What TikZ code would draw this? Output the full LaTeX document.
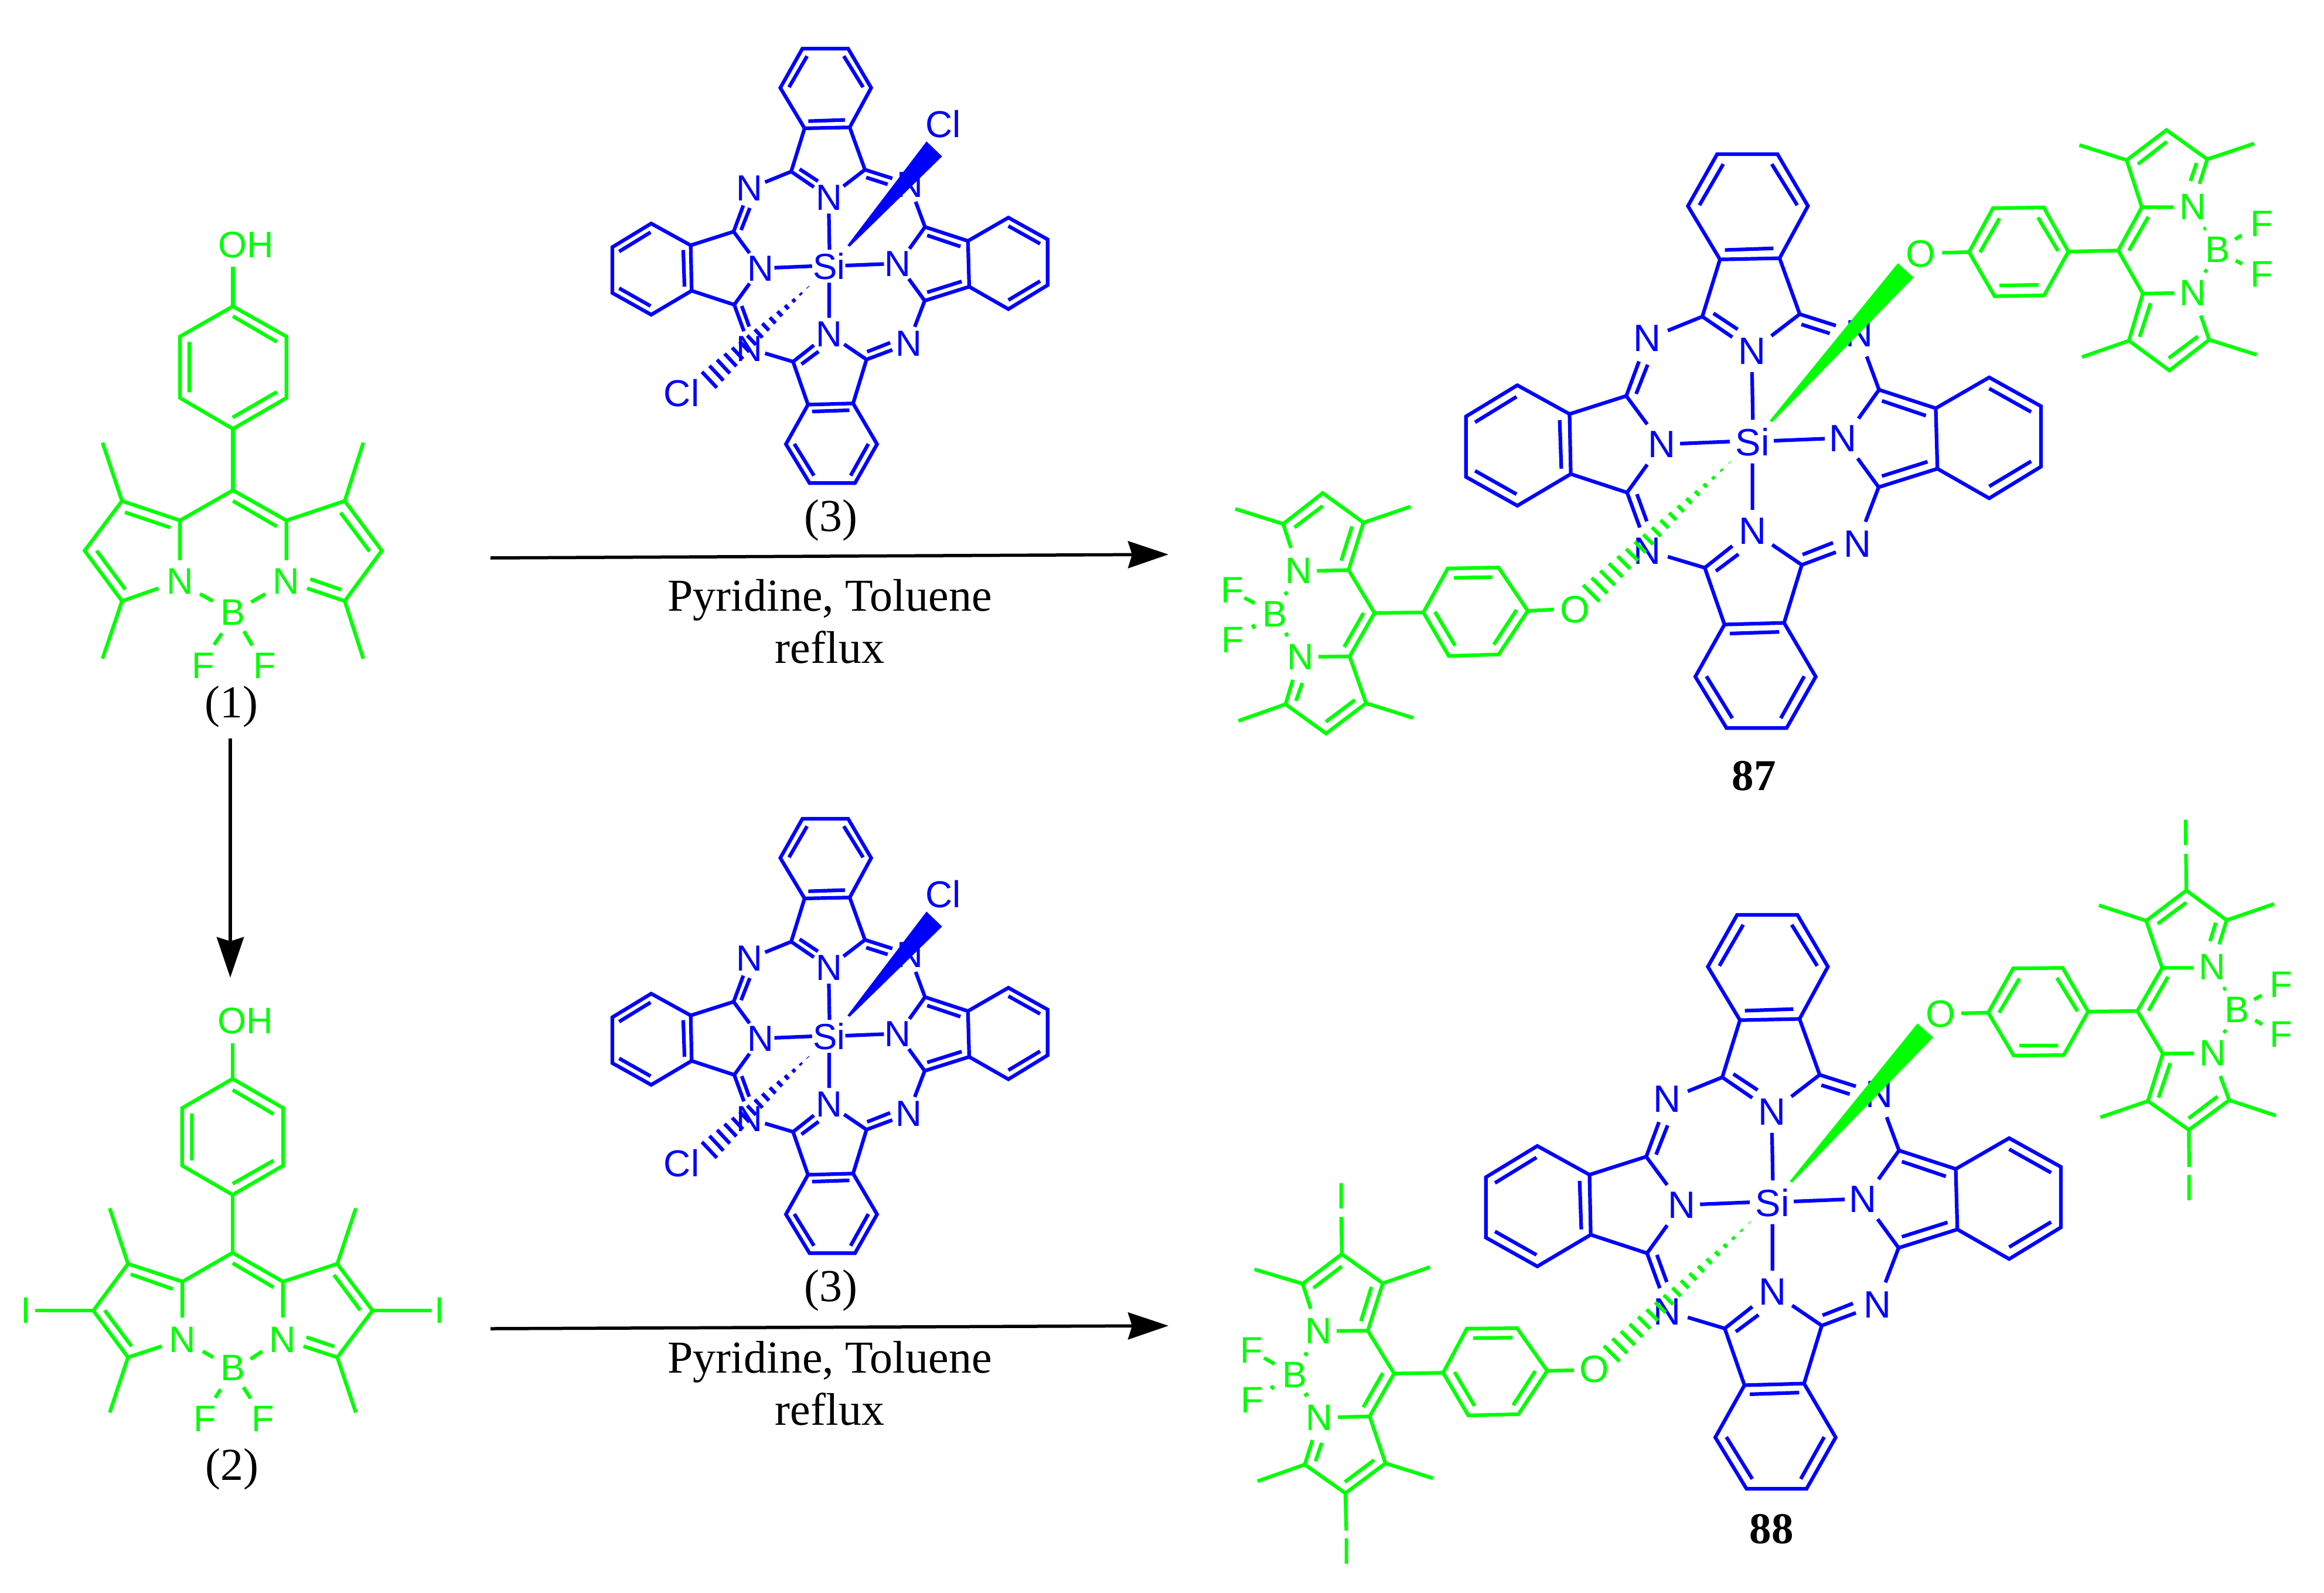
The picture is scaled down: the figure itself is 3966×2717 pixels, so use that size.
\documentclass[tikz,border=0pt]{standalone}
\usepackage{fontspec}
\setmainfont{Liberation Serif}
\newfontfamily\atomf{Liberation Sans}
\usetikzlibrary{calc,arrows.meta}
\definecolor{dgreen}{RGB}{0,255,0}
\definecolor{dblue}{RGB}{0,0,255}
\def\atsz{6.3}
\tikzset{
  frag/.style n args={4}{shift={(#1,#2)},x=#3pt,y=-#4pt},
  bond/.style={line width=0.62pt},
  atom/.style={inner sep=0pt,font=\atomf\fontsize{\atsz}{\atsz}\selectfont},
  lab/.style={inner sep=0pt,anchor=base,text=black,font=\fontsize{7.8}{9}\selectfont},
  rxn/.style={black,line width=0.55pt,-{Stealth[length=6.9pt,width=4.6pt,inset=0.7pt]}},
}
% hashed bond: tip, wide end a, wide end b, number of strokes
\newcommand\hashb[4]{%
  \coordinate (ht) at (#1);\coordinate (ha) at (#2);\coordinate (hb) at (#3);
  \foreach \i in {1,...,#4}{%
    \pgfmathsetmacro\tt{0.03+0.97*(\i-1)/(#4-1)}%
    \draw[bond] ($(ht)!\tt!(ha)$) -- ($(ht)!\tt!(hb)$);
  }%
}
% phthalocyanine skeleton, blue
\newcommand\pccore{%
  \draw[bond] (756,90)--(903,90)--(977,216)--(908,343)--(763,346)--(685,216)--cycle;
  \draw[bond] (771,114)--(713,214) (889,114)--(951,214) (775,323)--(893,319);
  \draw[bond] (636,519)--(720,485)--(793,535) (720,485)--(763,346) (908,343)--(957,479)--(888,532) (957,479)--(1045,507);
  \draw[bond] (747,477)--(806,516) (961,504)--(1030,526);
  \draw[bond] (841,620)--(843,736) (666,794)--(787,789) (894,787)--(1018,782) (842,842)--(842,955);
  % left
  \draw[bond] (586,747)--(535,678)--(397,722)--(400,868)--(537,913)--(586,845);
  \draw[bond] (566,594)--(535,678) (537,913)--(568,998);
  \draw[bond] (559,673)--(587,602) (561,917)--(585,983);
  \draw[bond] (397,722)--(270,652)--(145,728)--(145,875)--(270,945)--(400,868);
  \draw[bond] (373,737)--(377,855) (268,680)--(167,742) (167,860)--(268,917);
  % right
  \draw[bond] (1120,582)--(1150,663)--(1100,733) (1150,663)--(1288,708)--(1292,855)--(1149,900)--(1098,830) (1149,900)--(1117,984);
  \draw[bond] (1288,708)--(1418,633)--(1544,703)--(1544,850)--(1418,927)--(1292,855);
  \draw[bond] (1157,690)--(1264,726) (1157,873)--(1268,838) (1418,660)--(1520,717) (1418,898)--(1520,837);
  % bottom
  \draw[bond] (793,1043)--(726,1096)--(636,1069) (726,1096)--(774,1234)--(919,1230)--(962,1089)--(890,1040) (962,1089)--(1045,1058);
  \draw[bond] (808,1063)--(753,1104) (964,1064)--(1038,1035) (787,1256)--(907,1252);
  \draw[bond] (774,1234)--(703,1361)--(779,1486)--(925,1486)--(996,1361)--(919,1230);
  \draw[bond] (730,1360)--(793,1462) (968,1360)--(911,1462);
  % atoms
  \node[atom] (ntl) at (586,538) {N};
  \node[atom] (ntc) at (841,569) {N};
  \node[atom] (ntr) at (1102,527) {N};
  \node[atom] (nl) at (622,796) {N};
  \node[atom] (nr) at (1062,782) {N};
  \node[atom] (si) at (842,790) {Si};
  \node[atom] (nbc) at (842,1007) {N};
  \node[atom] (nbl) at (586,1055) {N};
  \node[atom] (nbr) at (1097,1038) {N};
}
% chlorosilicon phthalocyanine (3), frame of the upper copy
\newcommand\compthree{%
  \begin{scope}[frag={967.9}{35.2}{0.0531}{0.0531}]
    \def\atsz{6.2}\pccore
  \end{scope}
  \begin{scope}[frag={1000}{50}{0.05421}{0.05421}]
    \def\atsz{6.4}
    \fill (823,680)--(1072,353)--(1121,400)--(830,684)--cycle;
    \hashb{708,803}{365,1078}{412,1128}{15}
    \node[atom] (cla) at (1125,298) {Cl};
    \node[atom] (clb) at (301,1145) {Cl};
  \end{scope}
}
\begin{document}
\begin{tikzpicture}[x=0.1pt,y=-0.1pt]
\useasboundingbox (0,0) rectangle (3966,2717);
\fill[white] (0,0) rectangle (3966,2717);

% ---------- (1)
\begin{scope}[frag={0}{350}{0.05102}{0.06059},color=dgreen]
  \draw[bond] (779,285)--(958,370)--(958,543)--(779,630)--(602,543)--(602,370)--cycle;
  \draw[bond] (779,313)--(926,385) (778,598)--(926,526) (633,385)--(633,527);
  \draw[bond] (779,173)--(779,285) (779,630)--(779,803);
  \draw[bond] (602,1000)--(602,888)--(779,803)--(958,888)--(958,1000);
  \draw[bond] (779,833)--(926,905);
  \draw[bond] (602,888)--(408,833)--(283,973)--(408,1115)--(530,1079);
  \draw[bond] (418,865)--(570,908) (323,973)--(419,1082);
  \draw[bond] (958,888)--(1153,833)--(1277,973)--(1153,1115)--(1027,1079);
  \draw[bond] (1139,866)--(1236,975) (1038,1053)--(1141,1083);
  \draw[bond] (408,833)--(343,669) (408,1115)--(343,1277) (1153,833)--(1215,669) (1153,1115)--(1215,1277);
  \draw[bond] (669,1095)--(712,1115) (887,1095)--(840,1118) (742,1206)--(716,1238) (816,1200)--(844,1240);
  \node[atom] (oh1) at (822,112) {OH};
  \node[atom] (n1a) at (602,1060) {N};
  \node[atom] (n1b) at (956,1060) {N};
  \node[atom] (b1) at (780,1147) {B};
  \node[atom] (f1a) at (680,1297) {F};
  \node[atom] (f1b) at (886,1297) {F};
\end{scope}
\node[lab] (l1) at (395,1224) {(1)};

% ---------- (2)
\begin{scope}[frag={0}{1700}{0.05102}{0.0574},color=dgreen]
  \draw[bond] (778,245)--(947,332)--(947,503)--(778,590)--(609,503)--(609,332)--cycle;
  \draw[bond] (778,278)--(915,350) (778,557)--(915,488) (642,348)--(642,488);
  \draw[bond] (778,140)--(778,245) (778,590)--(778,762);
  \draw[bond] (610,955)--(610,848)--(778,762)--(946,848)--(946,955);
  \draw[bond] (778,793)--(915,865);
  \draw[bond] (610,848)--(428,795)--(312,934)--(428,1073)--(541,1040);
  \draw[bond] (437,826)--(578,870) (350,933)--(440,1040);
  \draw[bond] (946,848)--(1128,795)--(1246,934)--(1128,1073)--(1015,1040);
  \draw[bond] (1117,828)--(1205,933) (1025,1013)--(1118,1041);
  \draw[bond] (428,795)--(367,630) (428,1073)--(367,1237) (1128,795)--(1190,630) (1128,1073)--(1190,1237);
  \draw[bond] (118,934)--(312,934) (1246,934)--(1442,934);
  \draw[bond] (678,1055)--(713,1073) (877,1055)--(838,1078) (738,1168)--(720,1193) (814,1162)--(838,1195);
  \node[atom] (oh2) at (820,73) {OH};
  \node[atom] (i2a) at (86,934) {I};
  \node[atom] (i2b) at (1471,934) {I};
  \node[atom] (n2a) at (610,1020) {N};
  \node[atom] (n2b) at (946,1020) {N};
  \node[atom] (b2) at (780,1105) {B};
  \node[atom] (f2a) at (685,1256) {F};
  \node[atom] (f2b) at (879,1256) {F};
\end{scope}
\node[lab] (l2) at (396,2525) {(2)};

% ---------- reagent (3), twice
\begin{scope}[color=dblue]\compthree\end{scope}
\begin{scope}[shift={(0,1314)},color=dblue]\compthree\end{scope}
\node[lab] (l3a) at (1418,906) {(3)};
\node[lab] (l3b) at (1418,2220) {(3)};

% ---------- arrows and conditions
\coordinate (a1s) at (837,952);
\coordinate (a1e) at (1994,946);
\coordinate (a2s) at (837,2267);
\coordinate (a2e) at (1994,2262);
\coordinate (a3s) at (393,1260);
\coordinate (a3e) at (393,1668);
\draw[rxn] (a1s) -- (a1e);
\draw[rxn] (a2s) -- (a2e);
\draw[rxn] (a3s) -- (a3e);
\node[lab] (t1) at (1416,1042) {Pyridine, Toluene};
\node[lab] (t2) at (1416,1131) {reflux};
\node[lab] (t3) at (1416,2342) {Pyridine, Toluene};
\node[lab] (t4) at (1416,2431) {reflux};

% ---------- product 87
\begin{scope}[frag={2400}{200}{0.07015}{0.07015},color=dblue]
  \def\atsz{6.5}\pccore
\end{scope}
\begin{scope}[frag={2400}{200}{0.07015}{0.07015},color=dgreen]
  \def\atsz{6.5}
  \fill (884,738)--(1196,355)--(1234,390)--(890,742)--cycle;
  \hashb{797,830}{430,1138}{470,1178}{18}
  \node[atom] (o87a) at (1252,332) {O};
  \node[atom] (o87b) at (410,1198) {O};
\end{scope}
\begin{scope}[frag={3100}{150}{0.05523}{0.03827},color=dgreen]
  \draw[bond] (388,735)--(471,732);
  \draw[bond] (471,732)--(545,536)--(702,533)--(778,730)--(703,925)--(550,929)--cycle;
  \draw[bond] (565,582)--(505,733) (684,578)--(746,727) (565,881)--(686,878);
  \draw[bond] (778,730)--(932,725);
  \draw[bond] (1103,532)--(1005,532)--(932,725)--(1008,917)--(1105,915);
  \draw[bond] (1025,575)--(965,725);
  \draw[bond] (1005,532)--(958,322)--(1081,188)--(1207,318)--(1183,428);
  \draw[bond] (1174,335)--(1155,415) (1082,240)--(993,340);
  \draw[bond] (958,322)--(812,255) (1207,318)--(1352,248);
  \draw[bond] (1008,917)--(965,1127)--(1090,1260)--(1213,1123)--(1187,1015);
  \draw[bond] (1032,960)--(998,1110) (1178,1108)--(1088,1205);
  \draw[bond] (965,1127)--(820,1200) (1213,1123)--(1360,1190);
  \draw[bond] (1196,630)--(1203,625) (1198,812)--(1207,820) (1293,675)--(1313,657) (1295,770)--(1315,785);
  \node[atom] (n87a) at (1163,530) {N};
  \node[atom] (n87b) at (1163,915) {N};
  \node[atom] (b87a) at (1240,720) {B};
  \node[atom] (f87a) at (1375,607) {F};
  \node[atom] (f87b) at (1375,830) {F};
\end{scope}
\begin{scope}[frag={2050}{800}{0.04464}{0.03333},color=dgreen]
  \draw[bond] (1348,720)--(1248,727);
  \draw[bond] (1248,727)--(1136,505)--(942,510)--(849,735)--(946,958)--(1137,950)--cycle;
  \draw[bond] (965,558)--(1113,554) (1205,722)--(1118,900) (893,732)--(970,905);
  \draw[bond] (849,735)--(662,738);
  \draw[bond] (442,522)--(563,518)--(662,738)--(567,960)--(448,962);
  \draw[bond] (620,738)--(546,912);
  \draw[bond] (563,518)--(620,275)--(464,124)--(313,282)--(343,405);
  \draw[bond] (576,295)--(535,470) (464,190)--(356,300);
  \draw[bond] (313,282)--(130,205) (620,275)--(800,193);
  \draw[bond] (567,960)--(630,1200)--(477,1355)--(322,1205)--(350,1080);
  \draw[bond] (587,1183)--(476,1295) (386,1097)--(362,1188);
  \draw[bond] (322,1205)--(142,1290) (630,1200)--(810,1275);
  \draw[bond] (320,630)--(328,645) (165,660)--(204,688) (196,797)--(204,818) (332,843)--(320,853);
  \node[atom] (n87c) at (373,522) {N};
  \node[atom] (n87d) at (378,963) {N};
  \node[atom] (b87b) at (282,743) {B};
  \node[atom] (f87c) at (118,620) {F};
  \node[atom] (f87d) at (120,875) {F};
\end{scope}
\node[lab,font=\fontsize{7.5}{9}\selectfont\bfseries] (l87) at (2993,1348) {87};

% ---------- product 88
\begin{scope}[frag={2434.06}{1497.9}{0.07015}{0.07015},color=dblue]
  \def\atsz{6.5}\pccore
\end{scope}
\begin{scope}[frag={2500}{1500}{0.07015}{0.07015},color=dgreen]
  \def\atsz{6.5}
  \fill (790,735)--(1101,351)--(1139,385)--(796,738)--cycle;
  \hashb{703,826}{338,1135}{376,1173}{18}
  \node[atom] (o88a) at (1157,328) {O};
  \node[atom] (o88b) at (315,1192) {O};
\end{scope}
\begin{scope}[frag={3200}{1350}{0.04885}{0.04783},color=dgreen]
  \draw[bond] (301,792)--(395,790);
  \draw[bond] (395,790)--(482,632)--(655,630)--(744,786)--(659,941)--(484,943)--cycle;
  \draw[bond] (504,668)--(433,790) (635,666)--(707,785) (504,907)--(639,907);
  \draw[bond] (744,786)--(916,784);
  \draw[bond] (1112,630)--(1003,630)--(916,784)--(1005,936)--(1114,935);
  \draw[bond] (1023,662)--(955,783);
  \draw[bond] (1003,630)--(947,462)--(1087,354)--(1228,460)--(1202,546);
  \draw[bond] (1087,397)--(987,473) (1190,469)--(1170,535);
  \draw[bond] (947,462)--(782,407) (1228,460)--(1394,402);
  \draw[bond] (1087,354)--(1086,224) (1096,1208)--(1097,1340);
  \draw[bond] (1005,936)--(953,1105)--(1096,1208)--(1237,1102)--(1206,1016);
  \draw[bond] (1031,970)--(990,1093) (1196,1089)--(1095,1167);
  \draw[bond] (953,1105)--(787,1163) (1237,1102)--(1400,1157);
  \draw[bond] (1216,707)--(1226,702) (1217,853)--(1227,860) (1324,743)--(1350,728) (1328,817)--(1352,832);
  \node[atom] (i88a) at (1086,148) {I};
  \node[atom] (i88b) at (1097,1415) {I};
  \node[atom] (n88a) at (1177,627) {N};
  \node[atom] (n88b) at (1179,935) {N};
  \node[atom] (b88a) at (1265,780) {B};
  \node[atom] (f88a) at (1418,690) {F};
  \node[atom] (f88b) at (1418,868) {F};
\end{scope}
\begin{scope}[frag={2050}{2050}{0.05102}{0.04254},color=dgreen]
  \draw[bond] (1246,677)--(1157,679);
  \draw[bond] (1157,679)--(1056,508)--(888,510)--(809,687)--(893,858)--(1061,853)--cycle;
  \draw[bond] (909,548)--(1041,546) (1117,680)--(1043,817) (847,684)--(914,820);
  \draw[bond] (809,687)--(645,690);
  \draw[bond] (453,519)--(557,518)--(645,690)--(563,862)--(457,865);
  \draw[bond] (607,688)--(542,825);
  \draw[bond] (557,518)--(607,328)--(470,211)--(339,330)--(366,430);
  \draw[bond] (569,343)--(534,480) (470,260)--(375,347);
  \draw[bond] (339,330)--(178,272) (607,328)--(765,263);
  \draw[bond] (470,211)--(468,62) (482,1170)--(485,1320);
  \draw[bond] (563,862)--(616,1050)--(482,1170)--(346,1055)--(372,957);
  \draw[bond] (578,1037)--(480,1125) (403,968)--(382,1042);
  \draw[bond] (346,1055)--(188,1122) (616,1050)--(775,1110);
  \draw[bond] (345,607)--(355,617) (210,627)--(245,652) (233,740)--(243,752) (345,780)--(357,770);
  \node[atom] (i88c) at (468,-21) {I};
  \node[atom] (i88d) at (487,1403) {I};
  \node[atom] (n88c) at (392,520) {N};
  \node[atom] (n88d) at (395,866) {N};
  \node[atom] (b88b) at (312,695) {B};
  \node[atom] (f88c) at (168,597) {F};
  \node[atom] (f88d) at (170,797) {F};
\end{scope}
\node[lab,font=\fontsize{7.5}{9}\selectfont\bfseries] (l88) at (3023,2633) {88};
\end{tikzpicture}
\end{document}
